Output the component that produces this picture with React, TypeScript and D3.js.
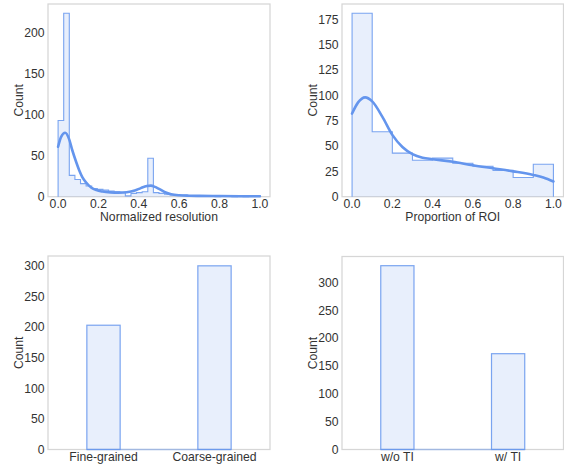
import React from "react";
import * as d3 from "d3";

// ---------- DATA ----------
const resBinCounts = [93, 224, 26, 21, 16, 13, 10, 9, 8, 7, 6, 5, 1, 4, 5, 6, 47, 5, 4, 3, 2, 2, 2, 1, 1, 1, 1, 1, 0, 1, 1, 0, 1, 0, 1, 1];
const resKdeX = [0, 0.015, 0.035, 0.055, 0.07, 0.09, 0.105, 0.12, 0.14, 0.165, 0.19, 0.22, 0.26, 0.3, 0.34, 0.38, 0.41, 0.44, 0.46, 0.48, 0.5, 0.53, 0.56, 0.6, 0.65, 0.7, 0.8, 0.9, 1.0];
const resKdeY = [61, 73, 78, 70, 57, 42, 32, 24, 17, 11, 8, 6.3, 5.3, 5, 5.5, 7.5, 10.5, 13, 13.5, 12, 9.5, 5.5, 3, 1.7, 1.2, 1, 0.8, 0.6, 0.5];

const roiBinCounts = [181, 64, 43, 36, 38, 33, 30, 26, 19, 32];
const roiKdeX = [0, 0.03, 0.065, 0.1, 0.15, 0.2, 0.25, 0.3, 0.35, 0.4, 0.5, 0.6, 0.7, 0.8, 0.9, 0.95, 1.0];
const roiKdeY = [82, 93, 98, 94, 79, 61, 49, 42, 38.5, 37, 34.5, 31, 28, 25, 21.5, 19, 15];

const granCategories = ["Fine-grained", "Coarse-grained"];
const granCounts = [203, 300];
const tiCategories = ["w/o TI", "w/ TI"];
const tiCounts = [330, 172];

const unitTicks = [0, 0.2, 0.4, 0.6, 0.8, 1.0];
const resTicksY = [0, 50, 100, 150, 200];
const roiTicksY = [0, 25, 50, 75, 100, 125, 150, 175];
const barTicksY = [0, 50, 100, 150, 200, 250, 300];

// ---------- STYLE ----------
const BLUE = "#6495ED";
const FONT = "'Liberation Sans', Arial, Helvetica, sans-serif";
const TEXT = "#333333";
const FS = 12.2;

type Box = { left: number; right: number; top: number; bottom: number };

function Frame({ box, yScale, yTicks, yLabel }: { box: Box; yScale: d3.ScaleLinear<number, number>; yTicks: number[]; yLabel: string }) {
  return (
    <g>
      <rect x={box.left} y={box.top} width={box.right - box.left} height={box.bottom - box.top} fill="none" stroke="#d6d6d6" strokeWidth={1.25} />
      {yTicks.map((t) => (
        <text key={t} x={box.left - 3.5} y={yScale(t)} dy="0.36em" textAnchor="end" fontFamily={FONT} fontSize={FS} fill={TEXT}>
          {t}
        </text>
      ))}
      <text
        transform={`translate(${box.left - 25},${(box.top + box.bottom) / 2}) rotate(-90)`}
        textAnchor="middle"
        fontFamily={FONT}
        fontSize={FS}
        fill={TEXT}
      >
        {yLabel}
      </text>
    </g>
  );
}

function HistPanel({ box, counts, kdeX, kdeY, yTicks, xLabel }: { box: Box; counts: number[]; kdeX: number[]; kdeY: number[]; yTicks: number[]; xLabel: string }) {
  const x = d3.scaleLinear().domain([-0.05, 1.05]).range([box.left, box.right]);
  const yMax = d3.max(counts)! * 1.05;
  const y = d3.scaleLinear().domain([0, yMax]).range([box.bottom, box.top]);
  const n = counts.length;
  const edges = d3.range(n + 1).map((i) => i / n);
  const pts: [number, number][] = edges.map((e, i) => [e, counts[Math.min(i, n - 1)]]);
  const area = d3
    .area<[number, number]>()
    .x((d) => x(d[0]))
    .y0(y(0))
    .y1((d) => y(d[1]))
    .curve(d3.curveStepAfter)(pts)!;
  const outlinePts: [number, number][] = [[0, 0], ...pts, [1, 0]];
  const outline = d3
    .line<[number, number]>()
    .x((d) => x(d[0]))
    .y((d) => y(d[1]))
    .curve(d3.curveStepAfter)(outlinePts)!;
  const kde = d3
    .line<number>()
    .x((d, i) => x(kdeX[i]))
    .y((d) => y(d))
    .curve(d3.curveMonotoneX)(kdeY)!;
  return (
    <g>
      <Frame box={box} yScale={y} yTicks={yTicks} yLabel="Count" />
      <path d={area} fill={BLUE} fillOpacity={0.15} stroke="none" />
      <path d={outline} fill="none" stroke={BLUE} strokeOpacity={0.85} strokeWidth={1.1} />
      <path d={kde} fill="none" stroke={BLUE} strokeWidth={2.6} strokeLinecap="round" strokeLinejoin="round" />
      {unitTicks.map((t) => (
        <text key={t} x={x(t)} y={box.bottom + 10.8} textAnchor="middle" fontFamily={FONT} fontSize={FS} fill={TEXT}>
          {t.toFixed(1)}
        </text>
      ))}
      <text x={(box.left + box.right) / 2} y={box.bottom + 24.2} textAnchor="middle" fontFamily={FONT} fontSize={FS} fill={TEXT}>
        {xLabel}
      </text>
    </g>
  );
}

function BarPanel({ box, categories, counts, yTicks, yMaxBase }: { box: Box; categories: string[]; counts: number[]; yTicks: number[]; yMaxBase: number }) {
  const x = d3.scaleLinear().domain([-0.5, categories.length - 0.5]).range([box.left, box.right]);
  const y = d3.scaleLinear().domain([0, yMaxBase * 1.05]).range([box.bottom, box.top]);
  const half = 0.15;
  return (
    <g>
      <Frame box={box} yScale={y} yTicks={yTicks} yLabel="Count" />
      <line x1={x(-half)} x2={x(categories.length - 1 + half)} y1={y(0)} y2={y(0)} stroke={BLUE} strokeOpacity={0.45} strokeWidth={1.6} />
      {counts.map((c, i) => (
        <rect
          key={i}
          x={x(i - half)}
          y={y(c)}
          width={x(i + half) - x(i - half)}
          height={y(0) - y(c)}
          fill={BLUE}
          fillOpacity={0.15}
          stroke={BLUE}
          strokeOpacity={0.85}
          strokeWidth={1.2}
        />
      ))}
      {categories.map((c, i) => (
        <text key={c} x={x(i)} y={box.bottom + 11} textAnchor="middle" fontFamily={FONT} fontSize={FS} fill={TEXT}>
          {c}
        </text>
      ))}
    </g>
  );
}

export default function App() {
  const p1: Box = { left: 48, right: 270, top: 4, bottom: 196.7 };
  const p2: Box = { left: 342, right: 563.5, top: 4, bottom: 196.7 };
  const p3: Box = { left: 48, right: 270, top: 256, bottom: 449.5 };
  const p4: Box = { left: 342, right: 563.5, top: 256.5, bottom: 449.5 };
  return (
    <svg width={564} height={465} style={{ position: "absolute", left: 0, top: 0, background: "#fff" }}>
      <rect width={564} height={465} fill="#fff" />
      <HistPanel box={p1} counts={resBinCounts} kdeX={resKdeX} kdeY={resKdeY} yTicks={resTicksY} xLabel="Normalized resolution" />
      <HistPanel box={p2} counts={roiBinCounts} kdeX={roiKdeX} kdeY={roiKdeY} yTicks={roiTicksY} xLabel="Proportion of ROI" />
      <BarPanel box={p3} categories={granCategories} counts={granCounts} yTicks={barTicksY} yMaxBase={301} />
      <BarPanel box={p4} categories={tiCategories} counts={tiCounts} yTicks={barTicksY} yMaxBase={330} />
    </svg>
  );
}
